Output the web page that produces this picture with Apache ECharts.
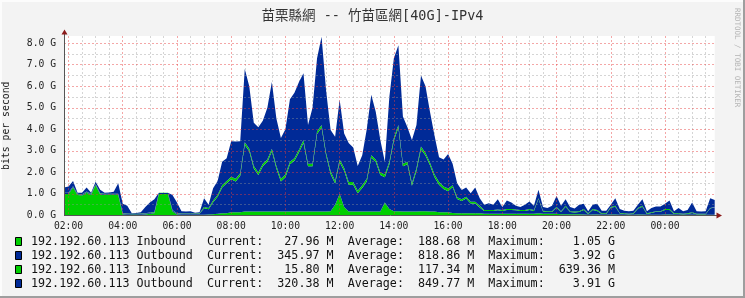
<!DOCTYPE html>
<html><head><meta charset="utf-8">
<script src="https://cdn.jsdelivr.net/npm/echarts@6/dist/echarts.min.js"></script>
<style>html,body{margin:0;padding:0;background:#f3f3f3}#c{width:745px;height:298px}</style>
</head><body><div id="c"></div><script>
const chartTitle = '苗栗縣網 -- 竹苗區網[40G]-IPv4';
const yAxisName = 'bits per second';
const sideText = 'RRDTOOL / TOBI OETIKER';
const startMinute = 110; // 01:50
const stepMinutes = 10;
const majorTicks = ['02:00','04:00','06:00','08:00','10:00','12:00','14:00','16:00','18:00','20:00','22:00','00:00'];

// values in Gbit/s, one per 10 minutes from 01:50
const inbound1 = [
1.0,1.0,1.3,0.95,0.93,1.05,
0.95,1.4,0.97,0.95,0.95,0.95,
0.95,0.05,0.03,0.02,0.02,0.03,
0.05,0.08,0.1,1.0,1.0,1.0,
0.2,0.05,0.03,0.03,0.03,0.03,
0.04,0.04,0.05,0.06,0.08,0.1,
0.1,0.15,0.15,0.15,0.18,0.18,
0.18,0.18,0.18,0.18,0.18,0.18,
0.18,0.18,0.18,0.18,0.18,0.18,
0.18,0.18,0.18,0.18,0.18,0.2,
0.5,1.0,0.4,0.18,0.18,0.18,
0.18,0.18,0.18,0.18,0.18,0.6,
0.3,0.2,0.2,0.18,0.18,0.18,
0.18,0.2,0.2,0.18,0.18,0.15,
0.15,0.15,0.12,0.1,0.1,0.1,
0.1,0.1,0.1,0.08,0.08,0.08,
0.08,0.08,0.08,0.08,0.08,0.08,
0.08,0.08,0.08,0.1,0.08,0.08,
0.08,0.08,0.06,0.06,0.06,0.06,
0.06,0.05,0.04,0.05,0.05,0.04,
0.04,0.05,0.05,0.04,0.04,0.04,
0.04,0.05,0.05,0.04,0.04,0.04,
0.04,0.05,0.05,0.04,0.04,0.04,
0.04,0.04,0.04,0.04,0.04,0.03,
0.03];
const outbound1 = [
0.04,0.04,0.04,0.04,0.04,0.04,
0.04,0.04,0.04,0.04,0.04,0.04,
0.04,0.04,0.04,0.04,0.04,0.04,
0.04,0.04,0.04,0.04,0.04,0.04,
0.04,0.04,0.04,0.04,0.04,0.04,
0.04,0.3,0.24,0.56,0.79,1.2,
1.4,1.53,1.43,1.69,3.1,2.8,
2.0,1.7,2.1,2.3,2.8,2.0,
1.4,1.6,2.2,2.36,2.75,3.2,
2.1,2.1,3.6,3.9,2.6,1.73,
0.98,1.48,1.68,1.25,1.25,0.85,
1.1,1.4,2.5,2.3,1.7,1.18,
2.08,3.28,3.88,2.1,2.2,1.2,
1.9,2.88,2.58,2.15,1.6,1.28,
1.08,0.98,1.2,0.67,0.57,0.69,
0.46,0.46,0.27,0.13,0.13,0.13,
0.16,0.13,0.18,0.18,0.16,0.13,
0.13,0.18,0.13,0.66,0.1,0.08,
0.08,0.28,0.1,0.35,0.1,0.08,
0.1,0.21,0.03,0.21,0.16,0.03,
0.03,0.31,0.36,0.05,0.03,0.02,
0.03,0.26,0.36,0.03,0.08,0.13,
0.13,0.21,0.21,0.03,0.03,0.02,
0.03,0.08,0.02,0.02,0.02,0.3,
0.35];
const inbound2 = [
0.02,0.02,0.02,0.02,0.02,0.02,
0.02,0.02,0.02,0.02,0.02,0.02,
0.02,0.02,0.02,0.02,0.02,0.02,
0.02,0.02,0.02,0.02,0.02,0.02,
0.02,0.02,0.02,0.02,0.02,0.02,
0.02,0.06,0.06,0.08,0.08,0.1,
0.1,0.12,0.12,0.12,0.12,0.12,
0.12,0.12,0.12,0.12,0.12,0.12,
0.12,0.12,0.12,0.12,0.12,0.12,
0.12,0.12,0.12,0.12,0.12,0.12,
0.12,0.12,0.12,0.12,0.12,0.12,
0.12,0.12,0.12,0.12,0.12,0.12,
0.12,0.12,0.12,0.12,0.12,0.12,
0.12,0.12,0.12,0.12,0.12,0.12,
0.12,0.12,0.08,0.08,0.08,0.08,
0.08,0.08,0.08,0.04,0.04,0.04,
0.04,0.04,0.04,0.04,0.04,0.04,
0.04,0.04,0.04,0.04,0.04,0.04,
0.04,0.04,0.04,0.04,0.04,0.04,
0.04,0.04,0.03,0.04,0.04,0.03,
0.03,0.04,0.04,0.03,0.03,0.02,
0.03,0.04,0.04,0.03,0.03,0.03,
0.03,0.04,0.04,0.03,0.03,0.02,
0.03,0.03,0.02,0.02,0.02,0.02,
0.02];
const outbound2 = [
0.24,0.29,0.24,0.04,0.06,0.19,
0.04,0.11,0.17,0.04,0.06,0.09,
0.49,0.44,0.36,0.02,0.04,0.06,
0.29,0.46,0.59,0,0,0,
0.69,0.49,0.11,0.09,0.11,0.04,
0.05,0.4,0.15,0.56,0.65,1.1,
1.06,1.65,1.73,1.49,3.4,2.9,
2.0,2.1,2.0,2.4,3.1,2.2,
1.9,2.1,2.9,3.04,3.15,3.1,
1.8,2.6,3.4,4.1,2.9,1.92,
2.06,2.77,1.6,1.81,1.6,1.15,
1.4,2.3,2.8,2.2,1.5,0.6,
3.0,3.7,3.7,2.2,1.6,2.0,
2.0,3.3,3.1,2.35,1.8,1.15,
1.25,1.6,1.0,0.65,0.43,0.43,
0.39,0.66,0.35,0.25,0.32,0.25,
0.47,0.15,0.4,0.3,0.17,0.15,
0.25,0.35,0.2,0.4,0.18,0.15,
0.25,0.5,0.25,0.3,0.2,0.15,
0.3,0.25,0.1,0.2,0.3,0.12,
0.12,0.1,0.35,0.18,0.12,0.12,
0.12,0.15,0.3,0.1,0.2,0.22,
0.22,0.25,0.4,0.1,0.25,0.12,
0.15,0.45,0.12,0.1,0.12,0.45,
0.32];

const legendNames = ['192.192.60.113 Inbound','192.192.60.113 Outbound','192.192.60.113 Inbound','192.192.60.113 Outbound'];
const legendCurrent = ['27.96 M','345.97 M','15.80 M','320.38 M'];
const legendAverage = ['188.68 M','818.86 M','117.34 M','849.77 M'];
const legendMaximum = ['1.05 G','3.92 G','639.36 M','3.91 G'];
const green = '#00CF00', blue = '#002A97';
const legendColors = [green, blue, green, blue];

const times = [];
for (let i = 0; i < inbound1.length; i++) {
  const m = (startMinute + i * stepMinutes) % 1440;
  times.push(String(Math.floor(m / 60)).padStart(2, '0') + ':' + String(m % 60).padStart(2, '0'));
}
const mono = "'DejaVu Sans Mono', monospace";
const isMajor = (i, v) => majorTicks.includes(v);
const isMinor = (i, v) => (v.endsWith(':00') || v.endsWith(':30')) && !majorTicks.includes(v);

const redGrid = {color: 'rgba(230,60,60,0.45)', width: 1, type: [2, 2]};
const grayGrid = {color: 'rgba(150,150,150,0.4)', width: 1, type: [2, 2]};

function pad(s, n) { while (s.length < n) s = ' ' + s; return s; }
function padR(s, n) { while (s.length < n) s = s + ' '; return s; }

const graphics = [];
graphics.push({type:'rect', shape:{x:0,y:0,width:745,height:2}, style:{fill:'#fcfcfc'}, silent:true});
graphics.push({type:'rect', shape:{x:0,y:0,width:2,height:298}, style:{fill:'#fcfcfc'}, silent:true});
graphics.push({type:'rect', shape:{x:0,y:296,width:745,height:2}, style:{fill:'#9e9e9e'}, silent:true});
graphics.push({type:'rect', shape:{x:743,y:0,width:2,height:298}, style:{fill:'#9e9e9e'}, silent:true});
graphics.push({type:'line', shape:{x1:64.5,y1:216,x2:64.5,y2:33}, style:{stroke:'#555', lineWidth:1}, z:10});
graphics.push({type:'line', shape:{x1:64,y1:215.5,x2:717,y2:215.5}, style:{stroke:'#555', lineWidth:1}, z:10});
graphics.push({type:'polygon', shape:{points:[[61.5,34.5],[67.5,34.5],[64.5,29.5]]}, style:{fill:'#8b1a1a'}, z:11});
graphics.push({type:'polygon', shape:{points:[[716.5,212.5],[716.5,218.5],[722,215.5]]}, style:{fill:'#8b1a1a'}, z:11});
graphics.push({type:'text', x:737, y:8, rotation:-Math.PI/2, style:{text:sideText, fill:'#b4b4b4', font:"7.5px 'DejaVu Sans Mono'", textAlign:'left', textVerticalAlign:'middle'}});
for (let i = 0; i < legendNames.length; i++) {
  const y = 242 + i * 14;
  graphics.push({type:'rect', shape:{x:15.5,y:y-4.5,width:6,height:8}, style:{fill:legendColors[i], stroke:'#000', lineWidth:1}});
  const line = padR(legendNames[i], 25) + 'Current:' + pad(legendCurrent[i], 10) + '  Average:' + pad(legendAverage[i], 10) + '  Maximum:' + pad(legendMaximum[i], 10);
  graphics.push({type:'text', x:31, y:y, style:{text:line, fill:'#111', font:"11.7px 'DejaVu Sans Mono'", textAlign:'left', textVerticalAlign:'middle'}});
}

const seriesDefs = [
  {name:'in1', data: inbound1, color: green},
  {name:'out1', data: outbound1, color: blue},
  {name:'in2', data: inbound2, color: green},
  {name:'out2', data: outbound2, color: blue}
];

const chart = echarts.init(document.getElementById('c'), null, {renderer:'canvas'});
chart.setOption({
  animation: false,
  backgroundColor: '#f3f3f3',
  title: {text: chartTitle, left: 'center', top: 5, textStyle: {fontFamily: "'DejaVu Sans Mono','Noto Sans CJK TC'", fontSize: 13.5, fontWeight: 'normal', color: '#333'}},
  grid: {left: 64, right: 30.3, top: 36, bottom: 82.5, show: true, backgroundColor: '#ffffff', borderWidth: 0, outerBoundsMode: 'none', containLabel: false},
  xAxis: [
    {type:'category', data: times, boundaryGap:false, z:3,
     axisLine:{show:false}, axisTick:{show:false},
     axisLabel:{interval:isMajor, color:'#222', fontFamily:mono, fontSize:9.7, margin:6},
     splitLine:{show:true, interval:isMajor, lineStyle:redGrid}},
    {type:'category', data: times, boundaryGap:false, z:2, position:'bottom',
     axisLine:{show:false}, axisTick:{show:false}, axisLabel:{show:false},
     splitLine:{show:true, interval:isMinor, lineStyle:grayGrid}}
  ],
  yAxis: {type:'value', min:0, max:8.33, interval:1, z:3,
    name: yAxisName, nameLocation:'middle', nameGap:53, nameRotate:90,
    nameTextStyle:{fontFamily:mono, fontSize:9.8, color:'#222'},
    axisLine:{show:false}, axisTick:{show:false},
    axisLabel:{formatter: v => Number.isInteger(v) ? v.toFixed(1) + ' G' : '', showMaxLabel:false, color:'#222', fontFamily:mono, fontSize:9.7, margin:8},
    splitLine:{show:true, showMaxLine:false, showMinLine:false, lineStyle:redGrid},
    minorTick:{show:false, splitNumber:2},
    minorSplitLine:{show:true, lineStyle:grayGrid}},
  series: seriesDefs.map(s => ({
    type:'line', name:s.name, data:s.data, stack:'total', xAxisIndex:0,
    symbol:'none', showSymbol:false, lineStyle:{width:0}, itemStyle:{color:s.color},
    areaStyle:{color:s.color, opacity:1}, z:2
  })),
  graphic: graphics
});
</script></body></html>
